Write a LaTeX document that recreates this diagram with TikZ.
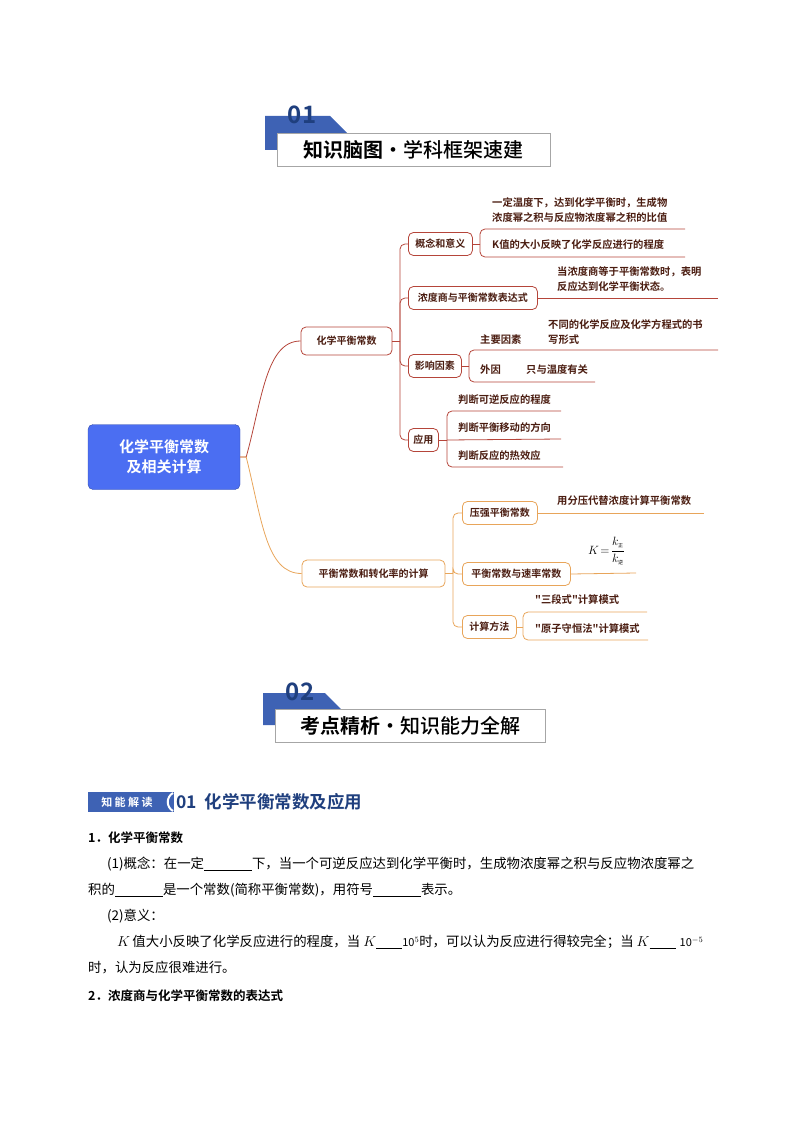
\documentclass[tikz,border=0pt]{standalone}
\usepackage{fontspec}
\setmainfont{Noto Sans CJK SC}
\newfontfamily\cjkb{Noto Sans CJK SC Bold}
\newfontfamily\cjkm{Noto Sans CJK SC Medium}
\definecolor{redb}{HTML}{B5453A}
\definecolor{orb}{HTML}{E8A55A}
\definecolor{leaf}{HTML}{4A1C10}
\definecolor{hblue}{HTML}{3E62B4}
\definecolor{dblue}{HTML}{1F3F7E}
\definecolor{rootb}{HTML}{4B6EF2}
\begin{document}
\begin{tikzpicture}[x=1pt,y=-1pt,
  br/.style={draw=redb,line width=0.8pt,rounded corners=5pt,fill=white,font=\cjkb\fontsize{10}{12}\selectfont,text=leaf,inner sep=4pt,minimum height=23pt},
  bo/.style={br,draw=orb},
  lf/.style={anchor=west,font=\cjkb\fontsize{10.3}{15}\selectfont,text=leaf,inner sep=0pt,align=left},
  rl/.style={draw=redb,line width=0.8pt},
  ol/.style={draw=orb,line width=0.8pt},
  body/.style={anchor=west,inner sep=0pt,font=\fontsize{13.4}{14}\selectfont}]
\useasboundingbox (0,0) rectangle (794,1123);
% header 01
\fill[hblue] (265,150) -- (265,116) -- (330,116) -- (348,134) -- (348,150) -- cycle;
\node[font=\cjkb\fontsize{24}{24}\selectfont,text=dblue] (n01) at (302,115) {01};
\node[draw=gray!70,fill=white,line width=0.8pt,minimum width=273pt,minimum height=33pt,inner sep=0pt,font=\cjkb\fontsize{20}{20}\selectfont] (h1) at (413.5,149.5) {知识脑图\cjkm·学科框架速建};
% root
\node[draw=rootb!70!black,fill=rootb,rounded corners=5pt,minimum width=152pt,minimum height=65pt,align=center,text=white,font=\cjkb\fontsize{15}{20}\selectfont] (root) at (164,457) {化学平衡常数\\及相关计算};
\node[br,minimum width=91pt,minimum height=28pt] (b1) at (346.5,341) {化学平衡常数};
\node[bo,minimum width=143pt,minimum height=27pt] (b2) at (373.5,573.5) {平衡常数和转化率的计算};
\draw[rl] (root.east) -- ++(6,0) .. controls (262,400) and (266,341) .. (b1.west);
\draw[ol] (root.east) -- ++(6,0) .. controls (262,520) and (266,573.5) .. (b2.west);
% branch 1 children
\node[br,minimum width=64pt,anchor=west] (c1) at (408,244) {概念和意义};
\node[br,minimum width=129pt,anchor=west] (c2) at (408,298) {浓度商与平衡常数表达式};
\node[br,minimum width=53pt,anchor=west] (c3) at (408,366) {影响因素};
\node[br,minimum width=30pt,anchor=west,inner sep=2pt] (c4) at (408,440) {应用};
\coordinate (j1) at (400,341);
\draw[rl] (b1.east) -- (j1);
\foreach \c in {c1,c2,c3,c4} \draw[rl,rounded corners=5pt] (j1) |- (\c.west);
% c1 leaves
\coordinate (k1) at (480,244);
\coordinate (e11) at (685,229); \coordinate (e12) at (685,257);
\draw[rl] (c1.east) -- (k1);
\draw[rl,rounded corners=5pt] (k1) |- (e11);
\draw[rl,rounded corners=5pt] (k1) |- (e12);
\node[lf] (l11) at (492,210.5) {一定温度下，达到化学平衡时，生成物\\浓度幂之积与反应物浓度幂之积的比值};
\node[lf] (l12) at (492,245) {\textit{K}值的大小反映了化学反应进行的程度};
% c2
\coordinate (e21) at (718,298);
\draw[rl] (c2.east) -- (e21);
\node[lf] (l21) at (557,279.5) {当浓度商等于平衡常数时，表明\\反应达到化学平衡状态。};
% c3
\coordinate (k3) at (469,366);
\coordinate (e31) at (718,350); \coordinate (e32) at (595,382);
\draw[rl] (c3.east) -- (k3);
\draw[rl,rounded corners=5pt] (k3) |- (e31);
\draw[rl,rounded corners=5pt] (k3) |- (e32);
\node[lf] (l31) at (480,340) {主要因素};
\node[lf] (l32) at (548,332.5) {不同的化学反应及化学方程式的书\\写形式};
\node[lf] (l33) at (480,370) {外因};
\node[lf] (l34) at (526,370) {只与温度有关};
% c4
\coordinate (k4) at (447,440);
\coordinate (e41) at (561,411); \coordinate (e42) at (561,439); \coordinate (e43) at (563,467);
\draw[rl] (c4.east) -- (k4);
\draw[rl,rounded corners=5pt] (k4) |- (e41);
\draw[rl] (k4) -- (e42);
\draw[rl,rounded corners=5pt] (k4) |- (e43);
\node[lf] (l41) at (458,400) {判断可逆反应的程度};
\node[lf] (l42) at (458,428) {判断平衡移动的方向};
\node[lf] (l43) at (458,456) {判断反应的热效应};
% branch 2 children
\node[bo,minimum width=75pt,anchor=west] (d1) at (462,513) {压强平衡常数};
\node[bo,minimum width=108pt,anchor=west] (d2) at (462,574) {平衡常数与速率常数};
\node[bo,minimum width=54pt,anchor=west] (d3) at (462,627) {计算方法};
\coordinate (j2) at (453,573.5);
\draw[ol] (b2.east) -- (j2);
\foreach \c in {d1,d2,d3} \draw[ol,rounded corners=5pt] (j2) |- (\c.west);
\coordinate (f1) at (704,513);
\draw[ol] (d1.east) -- (f1);
\node[lf] (m1) at (557,501) {用分压代替浓度计算平衡常数};
\coordinate (f2) at (636,573);
\draw[ol] (d2.east) -- (f2);
\node[anchor=west,inner sep=0pt,font=\fontsize{13}{14}\selectfont] (m2) at (588,551) {$\displaystyle K\!=\!\frac{k_{\mbox{\tiny 正}}}{k_{\mbox{\tiny 逆}}}$};
\coordinate (k5) at (523,627);
\coordinate (f31) at (647,612); \coordinate (f32) at (648,640);
\draw[ol] (d3.east) -- (k5);
\draw[ol,rounded corners=5pt] (k5) |- (f31);
\draw[ol,rounded corners=5pt] (k5) |- (f32);
\node[lf] (m31) at (535,600) {"三段式"计算模式};
\node[lf] (m32) at (535,629) {"原子守恒法"计算模式};
% header 02
\fill[hblue] (263,725) -- (263,693) -- (325,693) -- (343,711) -- (343,725) -- cycle;
\node[font=\cjkb\fontsize{24}{24}\selectfont,text=dblue] (n02) at (300,692) {02};
\node[draw=gray!70,fill=white,line width=0.8pt,minimum width=270pt,minimum height=33pt,inner sep=0pt,font=\cjkb\fontsize{20}{20}\selectfont] (h2) at (410,726) {考点精析\cjkm·知识能力全解};
% section title
\fill[hblue] (88,792) rectangle (174,812);
\node[text=white,font=\cjkb\itshape\fontsize{11}{11}\selectfont,inner sep=0pt] (tag) at (127,802) {知 能 解 读};
\draw[white,line width=2pt] (173,793) .. controls (166,797) and (166,807) .. (173,811);
\node[anchor=west,inner sep=0pt,text=dblue,font=\cjkb\fontsize{17.5}{18}\selectfont] (sec) at (176,802) {01\hspace{8pt}化学平衡常数及应用};
% body
\node[body,font=\cjkb\fontsize{12.5}{14}\selectfont] (t1) at (88,838) {1．化学平衡常数};
\node[body] (t2) at (107,864) {(1)概念：在一定\underline{\hspace{48pt}}下，当一个可逆反应达到化学平衡时，生成物浓度幂之积与反应物浓度幂之};
\node[body] (t3) at (88,890) {积的\underline{\hspace{48pt}}是一个常数(简称平衡常数)，用符号\underline{\hspace{48pt}}表示。};
\node[body] (t4) at (107,916) {(2)意义：};
\node[body] (t5) at (117,942) {$K$\,值大小反映了化学反应进行的程度，当 $K$\underline{\hspace{26pt}}{\fontsize{11}{11}\selectfont 10$^5$}时，可以认为反应进行得较完全；当 $K$\underline{\hspace{26pt}}\hspace{4pt}{\fontsize{11}{11}\selectfont 10$^{-5}$}};
\node[body] (t6) at (88,968) {时，认为反应很难进行。};
\node[body,font=\cjkb\fontsize{12.5}{14}\selectfont] (t7) at (88,996) {2．浓度商与化学平衡常数的表达式};
\end{tikzpicture}
\end{document}
